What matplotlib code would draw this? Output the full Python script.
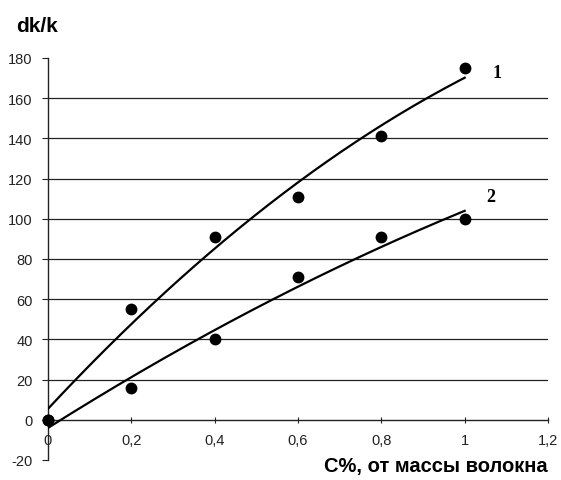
import numpy as np
import matplotlib
matplotlib.use("Agg")
import matplotlib.pyplot as plt

plt.rcParams["font.family"] = ["Liberation Sans", "DejaVu Sans"]
plt.rcParams["axes.unicode_minus"] = False

conc = [0.0, 0.2, 0.4, 0.6, 0.8, 1.0]
series1 = [0, 55, 91, 111, 141, 175]
series2 = [0, 16, 40, 71, 91, 100]
x_ticks = [0, 0.2, 0.4, 0.6, 0.8, 1.0, 1.2]
x_tick_labels = ["0", "0,2", "0,4", "0,6", "0,8", "1", "1,2"]
y_ticks = [-20, 0, 20, 40, 60, 80, 100, 120, 140, 160, 180]
curve_labels = ["1", "2"]

fig = plt.figure(figsize=(5.61, 4.81), dpi=100)
ax = fig.add_axes([48/561, 1-461/481, 500/561, 402/481])
ax.set_xlim(0, 1.2)
ax.set_ylim(-20, 180)

for yv in y_ticks:
    if 0 < yv < 180:
        ax.axhline(yv, color="#222222", lw=0.9, zorder=1)

xs = np.linspace(0, 1.0, 200)
for s in (series1, series2):
    c = np.polyfit(conc, s, 2)
    ax.plot(xs, np.polyval(c, xs), color="black", lw=1.6, zorder=3)
    ax.plot(conc, s, "o", color="black", ms=7.5, zorder=4, clip_on=False)

ax.text(1.066, 173, curve_labels[0], family="Liberation Serif", fontweight="bold",
        fontsize=13, va="center", ha="left")
ax.text(1.051, 111, curve_labels[1], family="Liberation Serif", fontweight="bold",
        fontsize=13, va="center", ha="left")

for sp in ("top", "right"):
    ax.spines[sp].set_visible(False)
ax.spines["bottom"].set_position(("data", 0))
ax.spines["left"].set_color("#222222")
ax.spines["bottom"].set_color("#222222")
ax.spines["left"].set_linewidth(1.0)
ax.spines["bottom"].set_linewidth(1.0)

ax.set_xticks(x_ticks)
ax.set_xticklabels(x_tick_labels)
ax.set_yticks(y_ticks)
ax.tick_params(axis="x", direction="inout", length=5, pad=7, labelsize=10.5,
               colors="#222222")
ax.tick_params(axis="y", direction="out", length=4, pad=7, labelsize=10.5,
               colors="#222222")

fig.text(16/561, 1-26/481, "dk/k", fontweight="bold", fontsize=15,
         ha="left", va="center")
fig.text(548/561, 1-467/481, "C%, от массы волокна", fontweight="bold",
         fontsize=14.5, ha="right", va="center")

fig.savefig("out.png", dpi=100)
